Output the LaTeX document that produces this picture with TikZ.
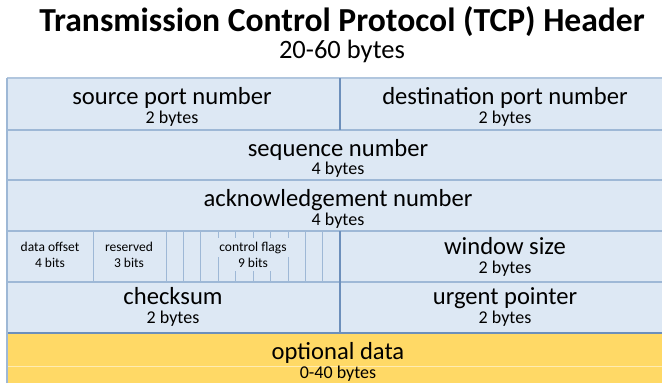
\documentclass[tikz,border=0pt]{standalone}
\usepackage{fontspec}
\setmainfont{Carlito}

\definecolor{cellblue}{HTML}{DDE8F4}
\definecolor{lineblue}{HTML}{9EB8D6}
\definecolor{edgeblue}{HTML}{6C8FBB}
\definecolor{optyellow}{HTML}{FFD966}
\newcommand{\fsize}[1]{\fontsize{#1}{#1}\selectfont}

\begin{document}
\begin{tikzpicture}[x=1pt, y=-1pt,
    field/.style={anchor=base, inner sep=0pt, font=\fsize{24.6}},
    bytes/.style={anchor=base, inner sep=0pt, font=\fsize{18}},
    bits/.style={anchor=base, inner sep=0pt, font=\fsize{13.5}},
    grid/.style={lineblue, line width=1pt}]

  \useasboundingbox (0,0) rectangle (662,383);
  \clip (0,0) rectangle (662,383);

  % title
  \node[anchor=base, inner sep=0pt, font=\bfseries\fsize{33.6}] (title) at (342,31) {Transmission Control Protocol (TCP) Header};
  \node[anchor=base, inner sep=0pt, font=\fsize{26.5}] (length) at (342,58) {20-60 bytes};

  % cell backgrounds
  \fill[cellblue] (7,78) rectangle (680,333);
  \fill[optyellow] (7,333) rectangle (680,395);
  \draw[optyellow!50!white, line width=0.6pt] (7,366) -- (680,366);

  % rows and outer edge
  \draw[lineblue!80, line width=1.2pt] (7,78) -- (680,78);
  \foreach \y in {130,180,231,282}
    \draw[grid, line width=1.2pt] (7,\y) -- (680,\y);
  \draw[edgeblue, line width=1.2pt] (7,333) -- (680,333);
  \draw[grid, line width=1.4pt] (7,78) -- (7,395);

  % half-word divider
  \draw[edgeblue, line width=1.2pt] (340,78) -- (340,130);
  \draw[edgeblue, line width=1.2pt] (340,231) -- (340,333);

  % bit fields of the offset/flags word
  \foreach \x in {93,166,183,200,218,235,253,270,288,305,322}
    \draw[grid, line width=0.8pt] (\x,231) -- (\x,282);

  % row 1
  \node[field] (srcport) at (172,104) {source port number};
  \node[bytes] (srcportlen) at (172,123) {2 bytes};
  \node[field] (dstport) at (505,104) {destination port number};
  \node[bytes] (dstportlen) at (505,123) {2 bytes};

  % row 2
  \node[field] (seqnum) at (338,156) {sequence number};
  \node[bytes] (seqnumlen) at (338,174) {4 bytes};

  % row 3
  \node[field] (acknum) at (338,206) {acknowledgement number};
  \node[bytes] (acknumlen) at (338,225) {4 bytes};

  % row 4
  \node[bits] (offset) at (50,251) {data offset};
  \node[bits] (offsetlen) at (50,267) {4 bits};
  \node[bits] (reserved) at (129,251) {reserved};
  \node[bits] (reservedlen) at (129,267) {3 bits};
  \node[bits, fill=cellblue, inner xsep=4pt, inner ysep=4pt] (flags) at (253,251) {control flags};
  \node[bits, fill=cellblue, inner xsep=8pt, inner ysep=4pt] (flagslen) at (253,267) {9 bits};
  \node[field] (window) at (505,254) {window size};
  \node[bytes] (windowlen) at (505,273) {2 bytes};

  % row 5
  \node[field] (checksum) at (173,304) {checksum};
  \node[bytes] (checksumlen) at (173,323) {2 bytes};
  \node[field] (urgent) at (505,304) {urgent pointer};
  \node[bytes] (urgentlen) at (505,323) {2 bytes};

  % options
  \node[field] (options) at (338,359) {optional data};
  \node[bytes] (optionslen) at (338,378) {0-40 bytes};

\end{tikzpicture}
\end{document}
